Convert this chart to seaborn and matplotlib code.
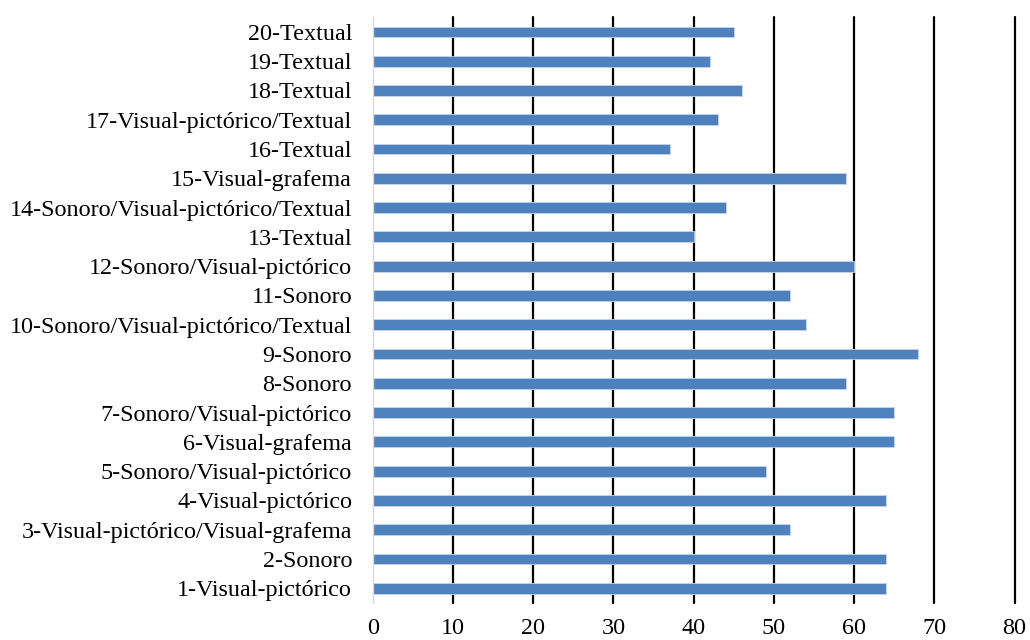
import matplotlib
matplotlib.use("Agg")
import matplotlib.pyplot as plt
import seaborn as sns
import pandas as pd

categories = [
    "1-Visual-pictórico", "2-Sonoro", "3-Visual-pictórico/Visual-grafema",
    "4-Visual-pictórico", "5-Sonoro/Visual-pictórico", "6-Visual-grafema",
    "7-Sonoro/Visual-pictórico", "8-Sonoro", "9-Sonoro",
    "10-Sonoro/Visual-pictórico/Textual", "11-Sonoro", "12-Sonoro/Visual-pictórico",
    "13-Textual", "14-Sonoro/Visual-pictórico/Textual", "15-Visual-grafema",
    "16-Textual", "17-Visual-pictórico/Textual", "18-Textual", "19-Textual", "20-Textual",
]
values = [64, 64, 52, 64, 49, 65, 65, 59, 68, 54, 52, 60, 40, 44, 59, 37, 43, 46, 42, 45]
xticks = [0, 10, 20, 30, 40, 50, 60, 70, 80]

df = pd.DataFrame({"cat": categories, "val": values})
order = categories[::-1]

sns.set_theme(style="white")
plt.rcParams["font.family"] = ["Liberation Serif", "DejaVu Serif"]

fig = plt.figure(figsize=(10.3, 6.4), dpi=100)
ax = fig.add_axes([0.362, 0.058, 0.623, 0.915])

sns.barplot(data=df, y="cat", x="val", order=order, orient="h",
            color="#4F81BD", saturation=1, width=0.37,
            edgecolor="#C5D6EC", linewidth=0.6, ax=ax, zorder=3)

ax.set_xlim(0, 80)
ax.set_xticks(xticks)
ax.set_xticklabels([str(t) for t in xticks])
for t in xticks[1:]:
    ax.axvline(t, color="black", lw=1.6, zorder=1, clip_on=False)
ax.set_xlabel("")
ax.set_ylabel("")
for s in ["top", "right", "bottom"]:
    ax.spines[s].set_visible(False)
ax.spines["left"].set_color("#D9D9D9")
ax.spines["left"].set_linewidth(1.0)
ax.spines["left"].set_zorder(4)
ax.tick_params(axis="both", length=0, labelsize=17.4, colors="black")
ax.tick_params(axis="x", pad=11)
ax.tick_params(axis="y", pad=15)

fig.savefig("out.png", dpi=100)
